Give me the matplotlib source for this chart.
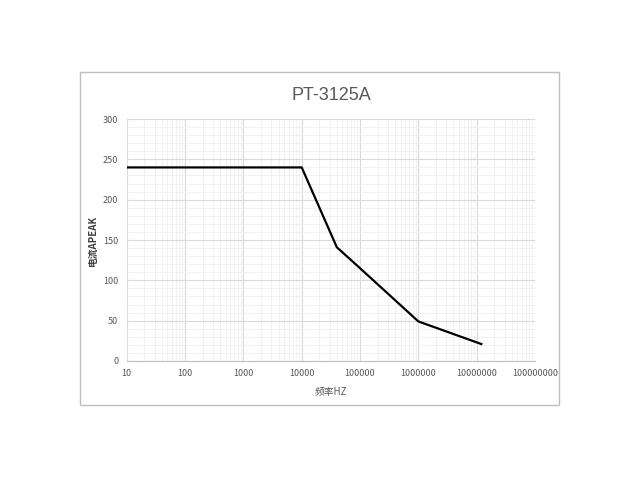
import matplotlib
matplotlib.use("Agg")
from matplotlib import pyplot as plt
from matplotlib.patches import Rectangle
from matplotlib.ticker import LogLocator, MultipleLocator, FixedLocator, NullFormatter

plt.rcParams["font.family"] = ["Noto Sans CJK SC", "DejaVu Sans"]

# data
freq_hz = [10, 10000, 40000, 100000, 1000000, 12000000]
current_apeak = [240, 240, 141, 115, 49, 21]

x_ticks = [10, 100, 1000, 10000, 100000, 1000000, 10000000, 100000000]
x_tick_labels = [str(t) for t in x_ticks]
y_ticks = [0, 50, 100, 150, 200, 250, 300]

title = "PT-3125A"
x_label = "频率HZ"
y_label = "电流APEAK"

label_color = "#595959"

fig = plt.figure(figsize=(6.4, 4.8), dpi=100)

# outer chart border
fig.patches.append(
    Rectangle((0.125, 0.156), 0.748, 0.694, transform=fig.transFigure,
              fill=False, edgecolor="#bfbfbf", linewidth=1.0)
)

ax = fig.add_axes([0.198, 0.248, 0.638, 0.504])
ax.plot(freq_hz, current_apeak, color="black", linewidth=1.6, zorder=3)

ax.set_xscale("log")
ax.set_xlim(10, 100000000)
ax.set_ylim(0, 300)

ax.xaxis.set_major_locator(FixedLocator(x_ticks))
ax.set_xticks(x_ticks, x_tick_labels)
ax.xaxis.set_minor_locator(LogLocator(base=10, subs=range(2, 10), numticks=20))
ax.xaxis.set_minor_formatter(NullFormatter())
ax.set_yticks(y_ticks)
ax.yaxis.set_minor_locator(MultipleLocator(10))

ax.grid(which="major", color="#d9d9d9", linewidth=0.8)
ax.grid(which="minor", color="#efefef", linewidth=0.6)
ax.set_axisbelow(True)

for side in ["top", "right", "left"]:
    ax.spines[side].set_visible(False)
ax.spines["bottom"].set_color("#bfbfbf")

ax.tick_params(which="both", length=0, labelsize=6.5, labelcolor=label_color, pad=6)

ax.set_title(title, fontsize=13, color=label_color, pad=14,
             family=["Liberation Sans", "DejaVu Sans"])
ax.set_xlabel(x_label, fontsize=7, color=label_color, labelpad=6)
ax.set_ylabel(y_label, fontsize=7, color="#404040", labelpad=4, fontweight="bold")

fig.savefig("out.png", dpi=100)
